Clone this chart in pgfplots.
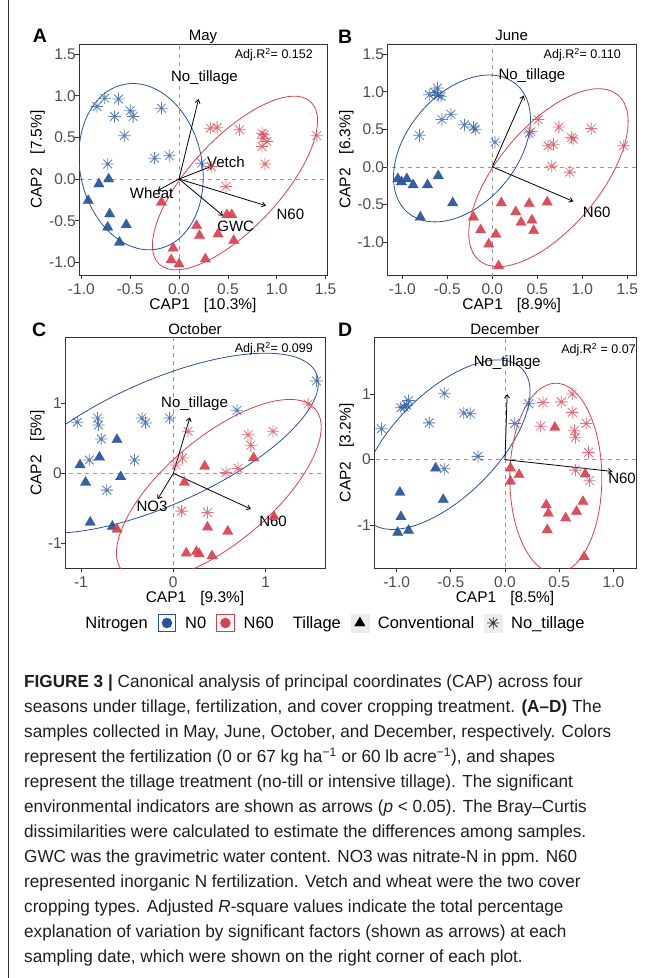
\documentclass[border=0pt]{standalone}
\usepackage{fontspec}
\setmainfont{Liberation Sans}
\newfontfamily\capfont[FakeStretch=0.98]{Liberation Sans}
\usepackage{pgfplots}
\pgfplotsset{compat=1.18}
\usetikzlibrary{arrows.meta}

\definecolor{nblue}{HTML}{26539C}
\definecolor{nred}{HTML}{D9404F}
\definecolor{gry}{HTML}{333333}
\definecolor{tickgry}{HTML}{4D4D4D}

% ggplot shape 8: plus and cross on top of each other
\pgfdeclareplotmark{ast8}{%
  \pgfpathmoveto{\pgfqpoint{-\pgfplotmarksize}{0pt}}%
  \pgfpathlineto{\pgfqpoint{\pgfplotmarksize}{0pt}}%
  \pgfpathmoveto{\pgfqpoint{0pt}{-\pgfplotmarksize}}%
  \pgfpathlineto{\pgfqpoint{0pt}{\pgfplotmarksize}}%
  \pgfpathmoveto{\pgfqpoint{-0.707\pgfplotmarksize}{-0.707\pgfplotmarksize}}%
  \pgfpathlineto{\pgfqpoint{0.707\pgfplotmarksize}{0.707\pgfplotmarksize}}%
  \pgfpathmoveto{\pgfqpoint{-0.707\pgfplotmarksize}{0.707\pgfplotmarksize}}%
  \pgfpathlineto{\pgfqpoint{0.707\pgfplotmarksize}{-0.707\pgfplotmarksize}}%
  \pgfusepathqstroke}

\pgfplotsset{
  capax/.style={
    scale only axis, clip=true,
    axis line style={draw=gry, line width=0.7pt},
    every tick/.style={draw=gry, line width=0.7pt},
    tick align=outside, major tick length=4pt,
    xtick pos=bottom, ytick pos=left,
    ticklabel style={font=\fontsize{15.5}{16}\selectfont, text=tickgry, inner sep=0pt},
    xticklabel style={anchor=base, yshift=-15pt},
    yticklabel style={anchor=east, xshift=1pt},
    label style={font=\fontsize{15.5}{16}\selectfont, inner sep=0pt},
    xlabel style={at={(axis description cs:0.5,0)}, anchor=base, yshift=-34.5pt},
    title style={at={(0.5,1)}, anchor=base, yshift=-2pt, font=\fontsize{15}{15}\selectfont, inner sep=0pt},
  },
  ast/.style={only marks, mark=ast8, mark size=6.2pt, color=#1, line width=0.8pt, opacity=0.75},
  tri/.style={only marks, mark=triangle*, mark size=6pt, color=#1, mark options={fill=#1, draw=#1, line width=0.3pt}, opacity=0.92},
  arr/.style={no marks, black, line width=0.8pt, -{Straight Barb[length=3.5pt,width=5pt]}},
  zero/.style={no marks, color=black!40, line width=0.7pt, dash pattern=on 4pt off 4pt},
}
\tikzset{
  lab/.style={font=\fontsize{15}{15}\selectfont, inner sep=0pt},
  ell/.style={line width=0.8pt},
}

\begin{document}
\begin{tikzpicture}
\path[use as bounding box] (0pt,0pt) rectangle (657pt,-978pt);
\draw[gry, line width=0.8pt] (8pt,0pt) -- (8pt,-978pt);

% ---------------- A: May
\begin{axis}[capax, at={(79pt,-44pt)}, anchor=north west, width=248pt, height=231pt,
  xmin=-1.024, xmax=1.515, ymin=-1.152, ymax=1.62,
  xtick={-1,-0.5,0,0.5,1,1.5}, xticklabels={-1.0,-0.5,0.0,0.5,1.0,1.5},
  ytick={-1,-0.5,0,0.5,1,1.5}, yticklabels={-1.0,-0.5,0.0,0.5,1.0,1.5},
  xlabel={CAP1\hspace{14pt}[10.3\%]}, ylabel={CAP2\hspace{14pt}[7.5\%]},
  ylabel style={at={(axis description cs:-0.151,0.5)}, anchor=base},
  title={May}]
\addplot[zero] coordinates {(-2,0) (2,0)};
\addplot[zero] coordinates {(0,-2) (0,2)};
\addplot[ast=nblue] coordinates {(-0.84,0.87) (-0.76,0.97) (-0.62,0.96) (-0.66,0.75) (-0.50,0.82) (-0.47,0.75) (-0.56,0.52) (-0.18,0.85) (-0.25,0.25) (-0.10,0.28) (-0.73,0.18) (0.23,0.19)};
\addplot[tri=nblue] coordinates {(-0.72,0.0) (-0.82,-0.06) (-0.93,-0.26) (-0.71,-0.42) (-0.73,-0.58) (-0.54,-0.55) (-0.61,-0.76)};
\addplot[ast=nred] coordinates {(0.32,0.61) (0.39,0.62) (0.62,0.59) (0.85,0.55) (0.86,0.49) (0.90,0.45) (0.85,0.39) (0.88,0.18) (1.41,0.52) (0.33,0.15) (0.48,-0.09) (0.87,0.53)};
\addplot[tri=nred] coordinates {(-0.18,-0.28) (-0.06,-0.83) (-0.08,-0.97) (0.0,-1.02) (0.27,-0.96) (0.18,-0.56) (0.21,-0.68) (0.40,-0.66) (0.49,-0.43) (0.54,-0.43) (0.56,-0.74)};
\draw[ell, nblue, rotate around={12:(axis cs:-0.389,0.148)}] (axis cs:-0.389,0.148) ellipse [x radius=61pt, y radius=84pt];
\draw[ell, nred, rotate around={47:(axis cs:0.573,-0.048)}] (axis cs:0.573,-0.048) ellipse [x radius=111pt, y radius=45pt];
\addplot[arr] coordinates {(0,0) (0.20,0.96)};
\addplot[arr] coordinates {(0,0) (0.35,0.16)};
\addplot[arr] coordinates {(0,0) (-0.22,-0.14)};
\addplot[arr] coordinates {(0,0) (0.89,-0.32)};
\addplot[arr] coordinates {(0,0) (0.45,-0.44)};
\node[lab] at (axis cs:0.26,1.22) {No\_tillage};
\node[lab] at (axis cs:0.48,0.20) {Vetch};
\node[lab] at (axis cs:-0.28,-0.17) {Wheat};
\node[lab] at (axis cs:1.14,-0.42) {N60};
\node[lab] at (axis cs:0.58,-0.57) {GWC};
\end{axis}

% ---------------- B: June
\begin{axis}[capax, at={(387.3pt,-44pt)}, anchor=north west, width=248.7pt, height=231pt,
  xmin=-1.167, xmax=1.597, ymin=-1.44, ymax=1.636,
  xtick={-1,-0.5,0,0.5,1,1.5}, xticklabels={-1.0,-0.5,0.0,0.5,1.0,1.5},
  ytick={-1,-0.5,0,0.5,1,1.5}, yticklabels={-1.0,-0.5,0.0,0.5,1.0,1.5},
  xlabel={CAP1\hspace{14pt}[8.9\%]}, ylabel={CAP2\hspace{14pt}[6.3\%]},
  ylabel style={at={(axis description cs:-0.148,0.5)}, anchor=base},
  title={June}]
\addplot[zero] coordinates {(-2,0) (2,0)};
\addplot[zero] coordinates {(0,-2) (0,2)};
\addplot[ast=nblue] coordinates {(-0.70,0.96) (-0.61,1.05) (-0.60,0.95) (-0.57,0.94) (-0.64,0.99) (-0.56,0.63) (-0.46,0.70) (-0.31,0.56) (-0.21,0.53) (-0.19,0.50) (-0.81,0.42) (0.03,0.33) (0.41,0.45)};
\addplot[tri=nblue] coordinates {(-1.05,-0.16) (-1.01,-0.20) (-0.95,-0.16) (-0.88,-0.24) (-0.72,-0.24) (-0.60,-0.12) (-0.44,-0.48) (-0.80,-0.67)};
\addplot[ast=nred] coordinates {(0.51,0.63) (0.43,0.47) (0.74,0.53) (0.68,0.30) (0.62,0.28) (0.88,0.39) (0.90,0.37) (1.10,0.51) (0.66,0.01) (0.86,-0.07) (1.46,0.28)};
\addplot[tri=nred] coordinates {(-0.21,-0.67) (0.10,-0.48) (-0.13,-0.84) (-0.04,-1.03) (0.04,-0.90) (0.07,-1.32) (0.26,-0.60) (0.32,-0.74) (0.41,-0.49) (0.44,-0.71) (0.46,-0.85) (0.61,-0.47)};
\draw[ell, nblue, rotate around={50:(axis cs:-0.337,0.245)}] (axis cs:-0.337,0.245) ellipse [x radius=84pt, y radius=55pt];
\draw[ell, nred, rotate around={50:(axis cs:0.624,-0.144)}] (axis cs:0.624,-0.144) ellipse [x radius=108pt, y radius=51pt];
\addplot[arr] coordinates {(0,0) (0.35,0.95)};
\addplot[arr] coordinates {(0,0) (0.90,-0.46)};
\node[lab] at (axis cs:0.44,1.21) {No\_tillage};
\node[lab] at (axis cs:1.16,-0.60) {N60};
\end{axis}

% ---------------- C: October
\begin{axis}[capax, at={(65pt,-337.3pt)}, anchor=north west, width=260pt, height=231pt,
  xmin=-1.173, xmax=1.643, ymin=-1.357, ymax=1.943,
  xtick={-1,0,1}, xticklabels={-1,0,1},
  ytick={-1,0,1}, yticklabels={-1,0,1},
  xlabel={CAP1\hspace{14pt}[9.3\%]}, ylabel={CAP2\hspace{14pt}[5\%]},
  ylabel style={at={(axis description cs:-0.0904,0.5)}, anchor=base},
  title={October}, title style={yshift=-1pt}]
\addplot[zero] coordinates {(-2,0) (2,0)};
\addplot[zero] coordinates {(0,-2) (0,2)};
\addplot[ast=nblue] coordinates {(-1.04,0.73) (-0.82,0.79) (-0.81,0.69) (-0.78,0.49) (-0.91,0.19) (-0.72,-0.24) (-0.42,0.19) (-0.34,0.79) (-0.30,0.72) (-0.04,0.79) (0.69,0.90) (1.55,1.32)};
\addplot[tri=nblue] coordinates {(-0.61,0.48) (-0.80,0.23) (-1.01,0.12) (-0.95,-0.13) (-0.57,-0.05) (-0.90,-0.70) (-0.66,-0.76)};
\addplot[ast=nred] coordinates {(0.16,0.60) (0.10,0.22) (0.03,0.12) (0.81,0.55) (0.84,0.40) (1.08,0.60) (1.46,0.99) (0.57,0.01) (0.70,0.07) (0.09,-0.54) (0.37,-0.56)};
\addplot[tri=nred] coordinates {(0.34,0.10) (0.87,0.22) (0.12,-0.13) (-0.61,-0.80) (0.37,-0.77) (0.59,-0.83) (1.09,-0.62) (0.14,-1.14) (0.25,-1.12) (0.28,-1.15) (0.42,-1.18)};
\draw[ell, nblue, rotate around={24:(axis cs:-0.153,0.43)}] (axis cs:-0.153,0.43) ellipse [x radius=172pt, y radius=62pt];
\draw[ell, nred, rotate around={40:(axis cs:0.493,-0.239)}] (axis cs:0.493,-0.239) ellipse [x radius=126pt, y radius=53pt];
\addplot[arr] coordinates {(0,0) (0.18,0.80)};
\addplot[arr] coordinates {(0,0) (-0.17,-0.37)};
\addplot[arr] coordinates {(0,0) (0.84,-0.51)};
\node[lab] at (axis cs:0.23,1.00) {No\_tillage};
\node[lab] at (axis cs:-0.23,-0.47) {NO3};
\node[lab] at (axis cs:1.08,-0.68) {N60};
\end{axis}

% ---------------- D: December
\begin{axis}[capax, at={(374pt,-337.3pt)}, anchor=north west, width=262pt, height=231pt,
  xmin=-1.209, xmax=1.209, ymin=-1.655, ymax=1.863,
  xtick={-1,-0.5,0,0.5,1}, xticklabels={-1.0,-0.5,0.0,0.5,1.0},
  ytick={-1,0,1}, yticklabels={-1,0,1},
  xlabel={CAP1\hspace{14pt}[8.5\%]}, ylabel={CAP2\hspace{14pt}[3.2\%]},
  ylabel style={at={(axis description cs:-0.0897,0.5)}, anchor=base},
  title={December}, title style={yshift=-1pt}]
\addplot[zero] coordinates {(-2,0) (2,0)};
\addplot[zero] coordinates {(0,-2) (0,2)};
\addplot[ast=nblue] coordinates {(-1.14,0.47) (-0.96,0.79) (-0.91,0.83) (-0.89,0.90) (-0.93,0.80) (-0.56,1.01) (-0.70,0.56) (-0.38,0.71) (-0.32,0.70) (-0.25,0.05) (-0.56,-0.14) (0.09,0.55) (0.22,0.85)};
\addplot[tri=nblue] coordinates {(-0.64,-0.13) (-0.57,-0.61) (-0.97,-0.50) (-0.96,-0.87) (-0.99,-1.11) (-0.89,-1.08)};
\addplot[ast=nred] coordinates {(0.62,1.00) (0.52,0.88) (0.62,0.72) (0.35,0.87) (0.33,0.51) (0.64,0.44) (0.65,0.34) (0.75,0.55) (0.77,0.11) (0.65,-0.16) (0.78,-0.32)};
\addplot[tri=nred] coordinates {(0.46,0.49) (0.05,-0.13) (0.13,-0.23) (0.05,-0.33) (0.74,-0.22) (0.38,-0.69) (0.40,-0.82) (0.56,-0.89) (0.66,-0.79) (0.72,-0.64) (0.39,-1.07) (0.73,-1.48)};
\draw[ell, nblue, rotate around={45:(axis cs:-0.551,0.228)}] (axis cs:-0.551,0.228) ellipse [x radius=108pt, y radius=52pt];
\draw[ell, nred] (axis cs:0.469,-0.283) ellipse [x radius=46pt, y radius=95pt];
\addplot[arr] coordinates {(0,0) (0.02,1.00)};
\addplot[arr] coordinates {(0,0) (0.99,-0.18)};
\node[lab] at (axis cs:0.02,1.48) {No\_tillage};
\node[lab] at (axis cs:1.08,-0.28) {N60};
\end{axis}

% panel letters and adjusted R2
\node[anchor=base west, inner sep=0pt, font=\bfseries\fontsize{19.5}{20}\selectfont] at (32.7pt,-42.7pt) {A};
\node[anchor=base west, inner sep=0pt, font=\bfseries\fontsize{19.5}{20}\selectfont] at (338pt,-43pt) {B};
\node[anchor=base west, inner sep=0pt, font=\bfseries\fontsize{19.5}{20}\selectfont] at (32pt,-336pt) {C};
\node[anchor=base west, inner sep=0pt, font=\bfseries\fontsize{19.5}{20}\selectfont] at (338pt,-336pt) {D};
\node[anchor=east, inner sep=0pt, font=\fontsize{12.5}{13}\selectfont] at (313pt,-55pt) {Adj.R\textsuperscript{2}= 0.152};
\node[anchor=east, inner sep=0pt, font=\fontsize{12.5}{13}\selectfont] at (621pt,-55pt) {Adj.R\textsuperscript{2}= 0.110};
\node[anchor=east, inner sep=0pt, font=\fontsize{12.5}{13}\selectfont] at (313pt,-349pt) {Adj.R\textsuperscript{2}= 0.099};
\node[anchor=east, inner sep=0pt, font=\fontsize{12.5}{13}\selectfont] at (636pt,-350pt) {Adj.R\textsuperscript{2} = 0.07};

% ---------------- legend
\begin{axis}[hide axis, scale only axis, width=1pt, height=1pt, at={(330.5pt,-623pt)}, anchor=center,
  xmin=0, xmax=1, ymin=0, ymax=1,
  legend columns=-1,
  legend style={at={(0.5,0.5)}, anchor=center, draw=none, fill=none,
    font=\fontsize{16.5}{16}\selectfont, nodes={inner sep=0pt},
    /tikz/every odd column/.style={column sep=9pt},
    /tikz/every even column/.style={column sep=10pt}}]
\addlegendimage{empty legend}\addlegendentry{Nitrogen}
\addlegendimage{legend image code/.code={\draw[nblue, line width=0.8pt, fill=white] (0pt,-8.8pt) rectangle (17.6pt,8.8pt); \fill[nblue] (8.8pt,0pt) circle (5pt);}}\addlegendentry{N0}
\addlegendimage{legend image code/.code={\draw[nred, line width=0.8pt, fill=white] (0pt,-8.8pt) rectangle (17.6pt,8.8pt); \fill[nred] (8.8pt,0pt) circle (5pt);}}\addlegendentry{N60\hspace{7pt}}
\addlegendimage{empty legend}\addlegendentry{Tillage}
\addlegendimage{legend image code/.code={\fill[black!7] (0pt,-8.8pt) rectangle (17.6pt,8.8pt); \begin{scope}[shift={(8.8pt,0pt)}, black]\pgfsetplotmarksize{6pt}\pgfuseplotmark{triangle*}\end{scope}}}\addlegendentry{Conventional}
\addlegendimage{legend image code/.code={\fill[black!7] (0pt,-8.8pt) rectangle (17.6pt,8.8pt); \begin{scope}[shift={(8.8pt,0pt)}, black!80]\pgfsetlinewidth{0.8pt}\pgfsetplotmarksize{6pt}\pgfuseplotmark{ast8}\end{scope}}}\addlegendentry{No\_tillage}
\end{axis}

% ---------------- caption
\begin{scope}[every node/.style={anchor=base west, inner sep=0pt, text=black!88, font=\capfont\fontsize{17.5}{25}\selectfont}]
\node at (24pt,-687.5pt) {\textbf{FIGURE 3 |} Canonical analysis of principal coordinates (CAP) across four};
\node at (24pt,-712.5pt) {seasons under tillage, fertilization, and cover cropping treatment. \textbf{(A–D)} The};
\node at (24pt,-737.5pt) {samples collected in May, June, October, and December, respectively. Colors};
\node at (24pt,-762.5pt) {represent the fertilization (0 or 67 kg ha\textsuperscript{−1} or 60 lb acre\textsuperscript{−1}), and shapes};
\node at (24pt,-787.5pt) {represent the tillage treatment (no-till or intensive tillage). The significant};
\node at (24pt,-812.5pt) {environmental indicators are shown as arrows (\textit{p} < 0.05). The Bray–Curtis};
\node at (24pt,-837.5pt) {dissimilarities were calculated to estimate the differences among samples.};
\node at (24pt,-862.5pt) {GWC was the gravimetric water content. NO3 was nitrate-N in ppm. N60};
\node at (24pt,-887.5pt) {represented inorganic N fertilization. Vetch and wheat were the two cover};
\node at (24pt,-912.5pt) {cropping types. Adjusted \textit{R}-square values indicate the total percentage};
\node at (24pt,-937.5pt) {explanation of variation by significant factors (shown as arrows) at each};
\node at (24pt,-962.5pt) {sampling date, which were shown on the right corner of each plot.};
\end{scope}
\end{tikzpicture}
\end{document}
